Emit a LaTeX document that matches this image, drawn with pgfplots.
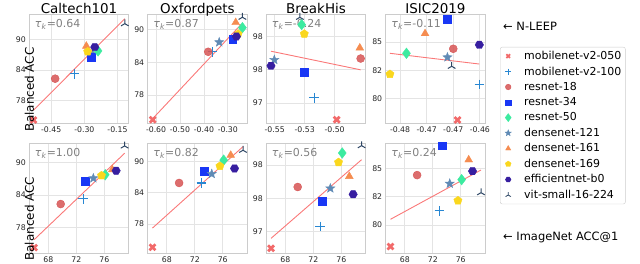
\documentclass[border=0pt]{standalone}
\usepackage{fontspec}
\setmainfont{DejaVu Sans}
\usepackage{pgfplots}
\pgfplotsset{compat=1.18}

\definecolor{c1}{RGB}{242,106,106}
\definecolor{c2}{RGB}{40,135,210}
\definecolor{c3}{RGB}{214,84,84}
\definecolor{c4}{RGB}{25,55,245}
\definecolor{c5}{RGB}{60,235,160}
\definecolor{c6}{RGB}{95,138,181}
\definecolor{c7}{RGB}{245,140,80}
\definecolor{c8}{RGB}{250,215,30}
\definecolor{c9}{RGB}{55,30,160}
\definecolor{c10}{RGB}{45,70,100}
\definecolor{trendcol}{RGB}{250,120,120}
\definecolor{framecol}{RGB}{204,204,204}
\definecolor{gridcol}{RGB}{228,228,228}
\definecolor{taucol}{RGB}{128,128,128}

\pgfdeclareplotmark{hexa}{%
  \pgfpathmoveto{\pgfpointpolar{0}{\pgfplotmarksize}}%
  \pgfpathlineto{\pgfpointpolar{60}{\pgfplotmarksize}}%
  \pgfpathlineto{\pgfpointpolar{120}{\pgfplotmarksize}}%
  \pgfpathlineto{\pgfpointpolar{180}{\pgfplotmarksize}}%
  \pgfpathlineto{\pgfpointpolar{240}{\pgfplotmarksize}}%
  \pgfpathlineto{\pgfpointpolar{300}{\pgfplotmarksize}}%
  \pgfpathclose\pgfusepathqfillstroke}
\pgfdeclareplotmark{fstar}{%
  \pgfpathmoveto{\pgfpointpolar{90}{\pgfplotmarksize}}%
  \pgfpathlineto{\pgfpointpolar{126}{0.42*\pgfplotmarksize}}%
  \pgfpathlineto{\pgfpointpolar{162}{\pgfplotmarksize}}%
  \pgfpathlineto{\pgfpointpolar{198}{0.42*\pgfplotmarksize}}%
  \pgfpathlineto{\pgfpointpolar{234}{\pgfplotmarksize}}%
  \pgfpathlineto{\pgfpointpolar{270}{0.42*\pgfplotmarksize}}%
  \pgfpathlineto{\pgfpointpolar{306}{\pgfplotmarksize}}%
  \pgfpathlineto{\pgfpointpolar{342}{0.42*\pgfplotmarksize}}%
  \pgfpathlineto{\pgfpointpolar{18}{\pgfplotmarksize}}%
  \pgfpathlineto{\pgfpointpolar{54}{0.42*\pgfplotmarksize}}%
  \pgfpathclose\pgfusepathqfillstroke}

\pgfplotsset{
  m1/.style={only marks, mark=x, mark size=4.2bp, mark options={draw=c1, line width=2.7bp}},
  m2/.style={only marks, mark=+, mark size=4.8bp, mark options={draw=c2, line width=1.1bp}},
  m3/.style={only marks, mark=*, mark size=4bp, mark options={draw=c3, fill=c3, fill opacity=0.85}},
  m4/.style={only marks, mark=square*, mark size=3.9bp, mark options={draw=c4, fill=c4}},
  m5/.style={only marks, mark=diamond*, mark size=5.3bp, mark options={draw=c5, fill=c5}},
  m6/.style={only marks, mark=fstar, mark size=4.8bp, mark options={draw=c6, fill=c6}},
  m7/.style={only marks, mark=triangle*, mark size=4.5bp, mark options={draw=c7, fill=c7}},
  m8/.style={only marks, mark=pentagon*, mark size=4.3bp, mark options={draw=c8, fill=c8}},
  m9/.style={only marks, mark=hexa, mark size=4.2bp, mark options={draw=c9, fill=c9}},
  m10/.style={only marks, mark=Mercedes star, mark size=4.4bp, mark options={draw=c10, line width=1bp}},
  trend/.style={draw=trendcol, line width=0.9bp, forget plot, no marks},
  panel/.style={
    scale only axis, width=99.5bp, anchor=south west, clip=false,
    axis line style={draw=framecol, line width=0.8bp},
    grid=major, major grid style={draw=gridcol, line width=0.8bp},
    major tick length=0pt,
    tick label style={font=\fontsize{7.8}{9}\selectfont, text=black!85},
    /pgf/number format/assume math mode=true,
    every axis title/.style={at={(0.5,1)}, anchor=base, yshift=0.8bp, font=\fontsize{13.5}{16}\selectfont},
    every axis y label/.style={at={(rel axis cs:0,0.5)}, rotate=90, anchor=center, xshift=-20.8bp, font=\fontsize{12}{14}\selectfont},
  },
  toprow/.style={panel, height=109bp},
  botrow/.style={panel, height=110bp, xmin=65.27, xmax=79.5, xtick={68,72,76}, xticklabels={68,72,76}},
}

\newcommand{\taulabel}[1]{\node[anchor=west, text=taucol, font=\fontsize{11}{13}\selectfont, inner sep=0pt] at (rel axis cs:0.055,0.905) {\textit{τ}\textsubscript{\textit{k}}=#1};}
\newcommand{\pt}[3]{\addplot[#1,forget plot] coordinates {(#2,#3)};}

% model order: m1 mobilenet-v2-050, m2 mobilenet-v2-100, m3 resnet-18, m4 resnet-34,
% m5 resnet-50, m6 densenet-121, m7 densenet-161, m8 densenet-169, m9 efficientnet-b0, m10 vit-small-16-224

\begin{document}
\begin{tikzpicture}
\useasboundingbox (0,0) rectangle (640bp,264bp);

% ---------- top row (N-LEEP) ----------
\begin{axis}[toprow, at={(29.3bp,141bp)}, title={Caltech101}, ylabel={Balanced ACC},
  xmin=-0.549, xmax=-0.099, ymin=73.6, ymax=95.0,
  xtick={-0.45,-0.30,-0.15}, xticklabels={-0.45,-0.30,-0.15},
  ytick={78,84,90}, yticklabels={78,84,90}]
\addplot[trend] coordinates {(-0.530,76.1) (-0.117,94.1)};
\pt{m1}{-0.530}{74.2}
\pt{m2}{-0.345}{83.25}
\pt{m3}{-0.432}{82.3}
\pt{m6}{-0.262}{87.1}
\pt{m4}{-0.270}{86.55}
\pt{m5}{-0.238}{87.75}
\pt{m7}{-0.291}{88.7}
\pt{m8}{-0.285}{87.6}
\pt{m9}{-0.253}{88.5}
\pt{m10}{-0.117}{93.1}
\taulabel{0.64}
\end{axis}

\begin{axis}[toprow, at={(147.7bp,141bp)}, title={Oxfordpets},
  xmin=-0.635, xmax=-0.219, ymin=72.9, ymax=92.8,
  xtick={-0.6,-0.5,-0.4,-0.3}, xticklabels={-0.60,-0.50,-0.40,-0.30},
  ytick={78,84,90}, yticklabels={78,84,90}]
\addplot[trend] coordinates {(-0.614,73.7) (-0.243,90.97)};
\pt{m1}{-0.614}{73.5}
\pt{m2}{-0.364}{85.9}
\pt{m3}{-0.382}{85.9}
\pt{m4}{-0.280}{88.2}
\pt{m5}{-0.239}{90.3}
\pt{m6}{-0.336}{87.65}
\pt{m7}{-0.267}{91.25}
\pt{m8}{-0.257}{89.15}
\pt{m9}{-0.264}{88.7}
\pt{m10}{-0.239}{92.2}
\taulabel{0.87}
\end{axis}

\begin{axis}[toprow, at={(266.3bp,141bp)}, title={BreakHis},
  xmin=-0.557, xmax=-0.474, ymin=96.95, ymax=98.59,
  xtick={-0.55,-0.525,-0.50}, xticklabels={-0.55,-0.53,-0.50},
  ytick={97.25,97.75,98.25}, yticklabels={97,98,98}]
\addplot[trend] coordinates {(-0.5531,98.03) (-0.4783,97.75)};
\pt{m1}{-0.4983}{97.00}
\pt{m2}{-0.5170}{97.33}
\pt{m3}{-0.4783}{97.92}
\pt{m4}{-0.5256}{97.71}
\pt{m5}{-0.5275}{98.43}
\pt{m6}{-0.5503}{97.90}
\pt{m7}{-0.4790}{98.08}
\pt{m8}{-0.5253}{98.29}
\pt{m9}{-0.5531}{97.81}
\pt{m10}{-0.5290}{98.54}
\taulabel{-0.24}
\end{axis}

\begin{axis}[toprow, at={(385.7bp,141bp)}, title={ISIC2019},
  xmin=-0.4827, xmax=-0.4640, ymin=77.83, ymax=87.48,
  xtick={-0.48,-0.475,-0.47,-0.465}, xticklabels={-0.48,-0.47,-0.47,-0.46},
  ytick={80,82.5,85}, yticklabels={80,82,85}]
\addplot[trend] coordinates {(-0.4819,84.0) (-0.4651,83.05)};
\pt{m1}{-0.4692}{78.10}
\pt{m2}{-0.4651}{81.25}
\pt{m3}{-0.4700}{84.40}
\pt{m4}{-0.4712}{87.00}
\pt{m5}{-0.4788}{84.00}
\pt{m6}{-0.4711}{83.65}
\pt{m7}{-0.4753}{85.75}
\pt{m8}{-0.4819}{82.15}
\pt{m9}{-0.4651}{84.75}
\pt{m10}{-0.4703}{82.85}
\taulabel{-0.11}
\end{axis}

% ---------- bottom row (ImageNet ACC@1) ----------
\begin{axis}[botrow, at={(29.3bp,11bp)}, ylabel={Balanced ACC},
  ymin=73.2, ymax=93.65, ytick={78,84,90}, yticklabels={78,84,90}]
\addplot[trend] coordinates {(65.95,75.66) (78.9,91.74)};
\pt{m1}{65.95}{74.2}
\pt{m2}{72.97}{83.25}
\pt{m3}{69.76}{82.3}
\pt{m4}{73.31}{86.55}
\pt{m5}{76.13}{87.75}
\pt{m6}{74.43}{87.1}
\pt{m7}{77.14}{88.7}
\pt{m8}{75.60}{87.6}
\pt{m9}{77.69}{88.5}
\pt{m10}{78.90}{93.1}
\taulabel{1.00}
\end{axis}

\begin{axis}[botrow, at={(147.7bp,11bp)},
  ymin=72.4, ymax=93.6, ytick={78,84,90}, yticklabels={78,84,90}]
\addplot[trend] coordinates {(65.95,77.2) (78.9,92.9)};
\pt{m1}{65.95}{73.5}
\pt{m2}{72.97}{85.9}
\pt{m3}{69.76}{85.9}
\pt{m4}{73.31}{88.2}
\pt{m5}{76.13}{90.3}
\pt{m6}{74.43}{87.65}
\pt{m7}{77.14}{91.25}
\pt{m8}{75.60}{89.15}
\pt{m9}{77.69}{88.7}
\pt{m10}{78.90}{92.2}
\taulabel{0.82}
\end{axis}

\begin{axis}[botrow, at={(266.3bp,11bp)},
  ymin=96.93, ymax=98.58, ytick={97.25,97.75,98.25}, yticklabels={97,98,98}]
\addplot[trend] coordinates {(65.95,97.15) (78.9,98.33)};
\pt{m1}{65.95}{97.00}
\pt{m2}{72.97}{97.33}
\pt{m3}{69.76}{97.92}
\pt{m4}{73.31}{97.71}
\pt{m5}{76.13}{98.43}
\pt{m6}{74.43}{97.90}
\pt{m7}{77.14}{98.08}
\pt{m8}{75.60}{98.29}
\pt{m9}{77.69}{97.81}
\pt{m10}{78.90}{98.54}
\taulabel{0.56}
\end{axis}

\begin{axis}[botrow, at={(385.7bp,11bp)},
  ymin=77.53, ymax=87.23, ytick={80,82.5,85}, yticklabels={80,82,85},
  legend style={at={(1.149,1.873)}, anchor=north west, draw=framecol, rounded corners=2bp,
    font=\fontsize{11}{13}\selectfont, inner xsep=2bp, inner ysep=2bp, row sep=1.7bp},
  legend cell align=left,
  legend image code/.code={\draw[#1] plot coordinates {(6bp,0bp)}; \path[draw=none,fill=none] (0bp,0bp) -- (20bp,0bp);}]
\addplot[trend] coordinates {(65.95,80.5) (78.9,84.85)};
\pt{m1}{65.95}{78.10}
\pt{m2}{72.97}{81.25}
\pt{m3}{69.76}{84.40}
\pt{m4}{73.31}{87.00}
\pt{m5}{76.13}{84.00}
\pt{m6}{74.43}{83.65}
\pt{m7}{77.14}{85.75}
\pt{m8}{75.60}{82.15}
\pt{m9}{77.69}{84.75}
\pt{m10}{78.90}{82.85}
\taulabel{0.24}
\addlegendimage{m1, mark size=2.6bp, mark options={draw=c1, line width=1.8bp}}
\addlegendentry{mobilenet-v2-050}
\addlegendimage{m2, mark size=3bp, mark options={draw=c2, line width=0.8bp}}
\addlegendentry{mobilenet-v2-100}
\addlegendimage{m3, mark size=2.8bp}
\addlegendentry{resnet-18}
\addlegendimage{m4, mark size=2.6bp}
\addlegendentry{resnet-34}
\addlegendimage{m5, mark size=4bp}
\addlegendentry{resnet-50}
\addlegendimage{m6, mark size=3.2bp}
\addlegendentry{densenet-121}
\addlegendimage{m7, mark size=3bp}
\addlegendentry{densenet-161}
\addlegendimage{m8, mark size=3bp}
\addlegendentry{densenet-169}
\addlegendimage{m9, mark size=2.8bp}
\addlegendentry{efficientnet-b0}
\addlegendimage{m10, mark size=3bp, mark options={draw=c10, line width=0.8bp}}
\addlegendentry{vit-small-16-224}
\end{axis}

\node[anchor=west, font=\fontsize{11.5}{14}\selectfont, inner sep=0pt] at (503bp,238bp) {← N-LEEP};
\node[anchor=west, font=\fontsize{11.5}{14}\selectfont, inner sep=0pt] at (503bp,27bp) {← ImageNet ACC@1};
\end{tikzpicture}
\end{document}
